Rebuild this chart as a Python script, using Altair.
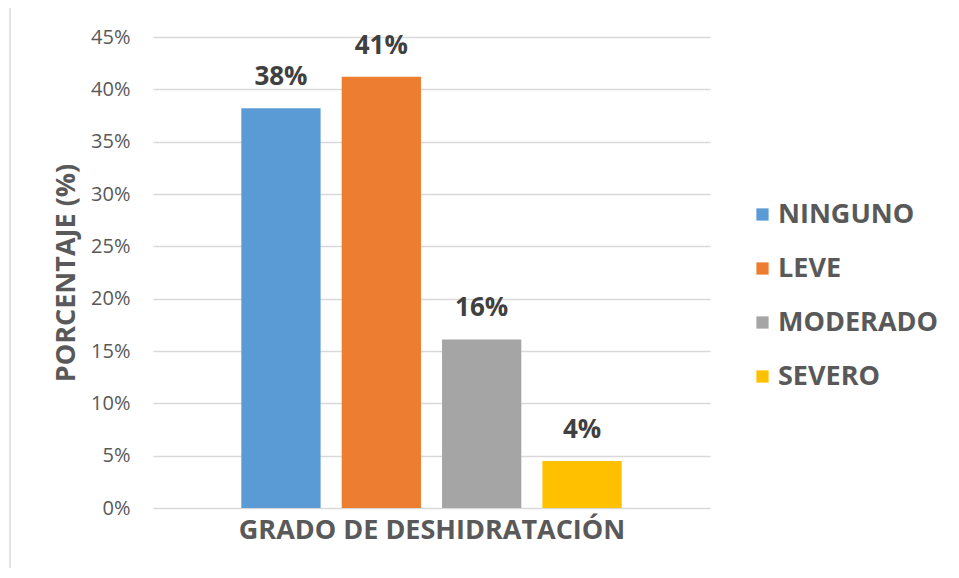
import altair as alt
import pandas as pd

categories = ["NINGUNO", "LEVE", "MODERADO", "SEVERO"]
values = [0.382, 0.412, 0.161, 0.045]
labels = ["38%", "41%", "16%", "4%"]
colors = ["#5B9BD5", "#ED7D31", "#A5A5A5", "#FFC000"]
y_ticks = [0, 0.05, 0.10, 0.15, 0.20, 0.25, 0.30, 0.35, 0.40, 0.45]

df = pd.DataFrame({"cat": categories, "val": values, "lab": labels})

FONT = "Open Sans"
TXT = "#595959"

x_enc = alt.X(
    "cat:N",
    sort=categories,
    title="GRADO DE DESHIDRATACIÓN",
    scale=alt.Scale(paddingInner=0.21, paddingOuter=0.88),
    axis=alt.Axis(labels=False, ticks=False, domain=False, grid=False,
                  titleFont=FONT, titleFontSize=27, titleFontWeight="bold",
                  titleColor=TXT, titlePadding=9),
)
y_enc = alt.Y(
    "val:Q",
    title="PORCENTAJE (%)",
    scale=alt.Scale(domain=[0, 0.45], nice=False),
    axis=alt.Axis(values=y_ticks, format=".0%", ticks=False, domain=False,
                  grid=True, gridColor="#D9D9D9", gridWidth=1.3,
                  labelFont=FONT, labelFontSize=20, labelColor=TXT,
                  labelPadding=23, titleFont=FONT, titleFontSize=27,
                  titleFontWeight="bold", titleColor=TXT, titlePadding=10),
)

bars = alt.Chart(df).mark_bar().encode(
    x=x_enc,
    y=y_enc,
    color=alt.Color(
        "cat:N",
        sort=categories,
        scale=alt.Scale(domain=categories, range=colors),
        legend=alt.Legend(
            title=None, orient="none", legendX=596, legendY=164,
            symbolType="square", symbolSize=150, symbolStrokeWidth=0,
            labelFont=FONT, labelFontSize=27, labelFontWeight="bold",
            labelColor=TXT, rowPadding=26, labelOffset=2,
        ),
    ),
)

text = alt.Chart(df).mark_text(
    dy=-31, font=FONT, fontSize=26, fontWeight="bold", color="#404040"
).encode(
    x=alt.X("cat:N", sort=categories),
    y="val:Q",
    text="lab:N",
)

frame = alt.Chart(df.head(1)).mark_rect(
    fill=None, stroke="#D9D9D9", strokeWidth=1.5
).encode(
    x=alt.value(-143), x2=alt.value(820),
    y=alt.value(-31), y2=alt.value(560),
)

chart = alt.layer(frame, bars, text).properties(
    width=557, height=471,
    autosize=alt.AutoSizeParams(type="none"),
    padding={"left": 145, "top": 29, "right": 240, "bottom": 60},
).configure_view(stroke=None)

chart.save("out.html", embed_options={"renderer": "svg", "actions": False})
